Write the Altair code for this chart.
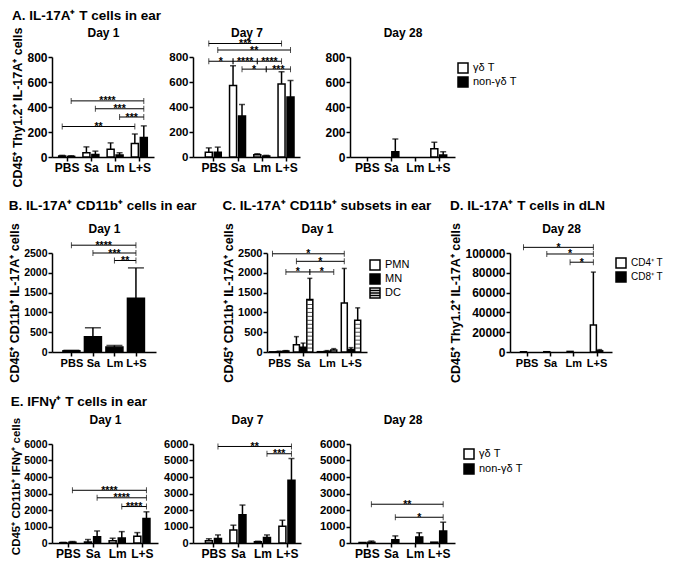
import json
import altair as alt
import pandas as pd

FONT = "Liberation Sans"

categories = ["PBS", "Sa", "Lm", "L+S"]
tcell_series = ["γδ T", "non-γδ T"]
cd11b_series = ["CD11b⁺"]
subset_series = ["PMN", "MN", "DC"]
dln_series = ["CD4⁺ T", "CD8⁺ T"]

# ---- A. IL-17A+ T cells in ear ----
a1_gd = [8, 34, 63, 108]
a1_gd_sd = [5, 47, 50, 76]
a1_non = [5, 21, 16, 157]
a1_non_sd = [5, 26, 18, 92]
a1_brackets = [(0, 1, 3, 1, 449, "****"), (1, 1, 3, 1, 386, "***"),
               (2, 1, 3, 1, 320, "***"), (0, 0, 3, 0, 244, "**")]

a7_gd = [39, 572, 18, 585]
a7_gd_sd = [34, 158, 8, 97]
a7_non = [39, 328, 8, 480]
a7_non_sd = [40, 92, 5, 132]
a7_brackets = [(0, 0, 3, 0, 908, "***"), (0, 1, 3, 1, 856, "**"),
               (0, 0, 1, 0, 766, "*"), (1, 0, 2, 0, 766, "****"),
               (2, 0, 3, 0, 766, "****"), (1, 1, 2, 1, 703, "*"),
               (2, 1, 3, 1, 703, "***")]

a28_gd = [0, 0, 0, 66]
a28_gd_sd = [0, 0, 0, 52]
a28_non = [0, 42, 0, 16]
a28_non_sd = [0, 102, 0, 26]
a28_brackets = []

# ---- B. IL-17A+ CD11b+ cells in ear ----
b_vals = [30, 388, 124, 1355]
b_sd = [12, 224, 41, 769]
b_brackets = [(0, 0, 3, 0, 2697, "****"), (1, 0, 3, 0, 2500, "***"),
              (2, 0, 3, 0, 2311, "**")]

# ---- C. IL-17A+ CD11b+ subsets in ear ----
c_pmn = [5, 183, 8, 1240]
c_pmn_sd = [0, 205, 0, 870]
c_mn = [8, 117, 15, 60]
c_mn_sd = [12, 108, 20, 50]
c_dc = [25, 1325, 50, 800]
c_dc_sd = [10, 535, 35, 315]
c_brackets = [(0, 0, 3, 0, 2480, "*"), (1, 0, 3, 0, 2290, "*"),
              (0, 2, 1, 2, 2022, "*"), (1, 2, 2, 2, 2022, "*")]

# ---- D. IL-17A+ T cells in dLN ----
d_cd4 = [150, 300, 600, 27300]
d_cd4_sd = [0, 0, 0, 53400]
d_cd8 = [0, 0, 0, 1200]
d_cd8_sd = [0, 0, 0, 1200]
d_brackets = [(0, 0, 3, 0, 105700, "*"), (1, 0, 3, 0, 99000, "*"),
              (2, 0, 3, 0, 90700, "*")]

# ---- E. IFNg+ T cells in ear ----
e1_gd = [20, 60, 140, 415]
e1_gd_sd = [15, 150, 150, 215]
e1_non = [50, 375, 300, 1480]
e1_non_sd = [40, 355, 390, 410]
e1_brackets = [(0, 1, 3, 1, 3195, "****"), (1, 1, 3, 1, 2740, "****"),
               (2, 1, 3, 1, 2210, "****")]

e7_gd = [140, 790, 80, 1020]
e7_gd_sd = [116, 290, 30, 360]
e7_non = [275, 1710, 335, 3800]
e7_non_sd = [215, 590, 155, 1320]
e7_brackets = [(0, 1, 3, 1, 5850, "**"), (2, 1, 3, 1, 5410, "***")]

e28_gd = [30, 0, 0, 50]
e28_gd_sd = [0, 0, 0, 0]
e28_non = [50, 200, 370, 730]
e28_non_sd = [70, 230, 250, 530]
e28_brackets = [(0, 1, 3, 1, 2350, "**"), (1, 1, 3, 1, 1560, "*")]

stripe_path = "M-1,-1H1V1H-1Z M-1,-0.5H1 M-1,0H1 M-1,0.5H1"
label_expr = json.dumps(categories) + "[datum.value]"


def offsets(n, step):
    return [(i - (n - 1) / 2) * step for i in range(n)]


def bar_frame(series, values, sds, step):
    offs = offsets(len(series), step)
    rows = []
    for si, name in enumerate(series):
        for gi, cat in enumerate(categories):
            v = values[si][gi]
            sd = sds[si][gi]
            rows.append({"category": cat, "series": name, "xpos": gi + offs[si],
                         "value": v, "sd": sd, "top": v + sd})
    return pd.DataFrame(rows)


def bracket_frame(brackets, n, step):
    offs = offsets(n, step)
    return pd.DataFrame([{"x1": g1 + offs[s1], "x2": g2 + offs[s2], "y": y, "label": l}
                         for g1, s1, g2, s2, y, l in brackets])


def panel(day, series, values, sds, brackets, fills, xdom, ydom, yticks, width, height,
          step, bar_w, ytitle=None, title=None, title_offset=0, legend=None,
          shapes=None, stripes=False, xlab=12, ylab=11.5, ytitle_size=12.5, ytitle_y=None):
    df = bar_frame(series, values, sds, step)
    base = alt.Chart(df)
    xs = alt.Scale(domain=xdom, nice=False, zero=False)
    ys = alt.Scale(domain=ydom, nice=False, zero=True)
    fill_scale = alt.Scale(domain=series, range=fills)

    ykw = dict(values=yticks, format="d", labelFontSize=ylab, titleFontSize=ytitle_size,
               titlePadding=2, labelPadding=1, title=ytitle if ytitle else None)
    if ytitle_y is not None:
        ykw["titleY"] = ytitle_y
    yax = alt.Axis(**ykw)
    xax = alt.Axis(orient="bottom", values=[0, 1, 2, 3], labelExpr=label_expr, title=None,
                   labelFontSize=xlab, labelOverlap=False, labelFlush=False)
    xnone = dict(axis=None)

    lg = None
    if legend:
        lg = alt.Legend(title=None, orient="right", offset=legend["offset"],
                        padding=legend["padding"], labelFont=FONT,
                        labelFontSize=legend.get("size", 11), labelFontWeight="normal",
                        labelColor="black", symbolSize=100, symbolStrokeWidth=1.5,
                        symbolStrokeColor="black", rowPadding=legend["row"],
                        labelOffset=4, symbolType="square")

    bars = base.transform_filter("datum.value > 0").mark_bar(
        orient="vertical", size=bar_w, stroke="black", strokeWidth=1.5
    ).encode(
        x=alt.X("xpos:Q", scale=xs, axis=xax),
        y=alt.Y("value:Q", scale=ys, stack=None, axis=yax),
        fill=alt.Fill("series:N", scale=fill_scale, legend=lg),
    )

    err = base.transform_filter("datum.sd > 0")
    rules = err.mark_rule(color="black", strokeWidth=1.5).encode(
        x=alt.X("xpos:Q", **xnone), y=alt.Y("value:Q", axis=yax), y2="top:Q")
    caps = err.mark_tick(orient="horizontal", size=bar_w - 1, thickness=1.5,
                         color="black").encode(
        x=alt.X("xpos:Q", **xnone), y=alt.Y("top:Q", axis=yax))

    daylayer = base.mark_point(opacity=0).encode(
        x=alt.X("xpos:Q", axis=alt.Axis(orient="top", title=day, labels=False, ticks=False,
                                        domain=False, titlePadding=21, titleFontSize=12,
                                        titleBaseline="alphabetic")),
        y=alt.Y("value:Q", axis=yax))

    layers = [bars, rules, caps]
    if stripes:
        st = base.transform_filter(
            "datum.series == '%s' && datum.value > 100" % series[-1]
        ).transform_calculate(
            stripe="sequence(100, datum.value, 100)"
        ).transform_flatten(["stripe"]).mark_tick(
            orient="horizontal", size=bar_w - 1, thickness=1, color="black"
        ).encode(x=alt.X("xpos:Q", **xnone), y=alt.Y("stripe:Q", axis=yax))
        layers.append(st)

    if brackets:
        bb = alt.Chart(bracket_frame(brackets, len(series), step))
        lines = bb.mark_rule(color="black", strokeWidth=1).encode(
            x=alt.X("x1:Q", **xnone), x2="x2:Q", y=alt.Y("y:Q", axis=yax))
        ends = bb.transform_fold(["x1", "x2"], as_=["end", "xe"]).mark_tick(
            orient="vertical", size=6, thickness=1, color="black").encode(
            x=alt.X("xe:Q", **xnone), y=alt.Y("y:Q", axis=yax))
        stars = bb.transform_calculate(xm="(datum.x1 + datum.x2) / 2").mark_text(
            baseline="alphabetic", dy=3.5, fontSize=10.5, fontWeight="bold",
            font=FONT, color="black").encode(
            x=alt.X("xm:Q", **xnone), y=alt.Y("y:Q", axis=yax), text="label:N")
        layers += [lines, ends, stars]

    layers.append(daylayer)

    if shapes:
        leg = base.transform_filter("false").mark_point(
            filled=True, size=100, stroke="black", strokeWidth=1.5, opacity=1).encode(
            fill=alt.Fill("series:N", scale=fill_scale, legend=lg),
            shape=alt.Shape("series:N", scale=alt.Scale(domain=series, range=shapes),
                            legend=lg))
        layers.append(leg)

    ch = alt.layer(*layers).resolve_axis(x="independent").properties(
        width=width, height=height)
    if title:
        ch = ch.properties(title=alt.TitleParams(
            text=title, anchor="start", frame="bounds", fontSize=13.5, font=FONT,
            fontWeight="bold", color="black", offset=title_offset))
    return ch


def spacer(w, h=1):
    return alt.Chart(pd.DataFrame({"z": [0]})).mark_point(opacity=0).properties(
        width=w, height=h)


def row(*charts):
    return alt.hconcat(*charts, spacing=0, bounds="flush").resolve_scale(
        x="independent", y="independent", fill="independent", shape="independent")


wb = ["white", "black"]
A_y = [0, 200, 400, 600, 800]
BC_y = [0, 500, 1000, 1500, 2000, 2500]
D_y = [0, 20000, 40000, 60000, 80000, 100000]
E_y = [0, 1000, 2000, 3000, 4000, 5000, 6000]

A1 = panel("Day 1", tcell_series, [a1_gd, a1_non], [a1_gd_sd, a1_non_sd], a1_brackets, wb,
           [-0.4, 3.4], [0, 800], A_y, 102, 100, 0.37, 7,
           ytitle="CD45⁺ Thy1.2⁺ IL-17A⁺ cells", title="A. IL-17A⁺ T cells in ear",
           title_offset=4, ylab=12)
A2 = panel("Day 7", tcell_series, [a7_gd, a7_non], [a7_gd_sd, a7_non_sd], a7_brackets, wb,
           [-0.63, 3.37], [0, 800], A_y, 107, 100, 0.37, 7, ylab=11.5)
A3 = panel("Day 28", tcell_series, [a28_gd, a28_non], [a28_gd_sd, a28_non_sd], a28_brackets,
           wb, [-0.5, 3.47], [0, 800], A_y, 105, 100, 0.37, 7, ylab=12,
           legend={"offset": -3, "padding": 5, "row": -2})

B = panel("Day 1", cd11b_series, [b_vals], [b_sd], b_brackets, ["black"],
          [-0.67, 3.7], [0, 2500], BC_y, 104, 99, 0.0, 17,
          ytitle="CD45⁺ CD11b⁺ IL-17A⁺ cells", title="B. IL-17A⁺ CD11b⁺ cells in ear",
          title_offset=10, xlab=11, ylab=10.5)
C = panel("Day 1", subset_series, [c_pmn, c_mn, c_dc], [c_pmn_sd, c_mn_sd, c_dc_sd],
          c_brackets, ["white", "black", "white"], [-0.3, 3.46], [0, 2500], BC_y, 100, 99,
          0.28, 6, ytitle="CD45⁺ CD11b⁺ IL-17A⁺ cells",
          title="C. IL-17A⁺ CD11b⁺ subsets in ear", title_offset=10, xlab=11, ylab=11,
          legend={"offset": -4, "padding": 6, "row": -2, "size": 11},
          shapes=["square", "square", stripe_path], stripes=True)
D = panel("Day 28", dln_series, [d_cd4, d_cd8], [d_cd4_sd, d_cd8_sd], d_brackets, wb,
          [-0.5, 3.45], [0, 100000], D_y, 102, 99, 0.27, 6,
          ytitle="CD45⁺ Thy1.2⁺ IL-17A⁺ cells", title="D. IL-17A⁺ T cells in dLN",
          title_offset=10, xlab=11, ylab=12,
          legend={"offset": -1, "padding": 4, "row": -3, "size": 10})

E1 = panel("Day 1", tcell_series, [e1_gd, e1_non], [e1_gd_sd, e1_non_sd], e1_brackets, wb,
           [-0.44, 3.45], [0, 6000], E_y, 106, 99, 0.37, 7,
           ytitle="CD45⁺ CD11b⁺ IFNγ⁺ cells", title="E. IFNγ⁺ T cells in ear",
           title_offset=5, ylab=10.5, ytitle_size=11.5, ytitle_y=42)
E2 = panel("Day 7", tcell_series, [e7_gd, e7_non], [e7_gd_sd, e7_non_sd], e7_brackets, wb,
           [-0.63, 3.37], [0, 6000], E_y, 108, 99, 0.37, 7, ylab=11)
E3 = panel("Day 28", tcell_series, [e28_gd, e28_non], [e28_gd_sd, e28_non_sd], e28_brackets,
           wb, [-0.5, 3.47], [0, 6000], E_y, 105, 99, 0.37, 7, ylab=11.5,
           legend={"offset": 4, "padding": 4, "row": -1})

rowA = row(A1, spacer(39), A2, spacer(50), A3)
rowB = row(B, spacer(111), C, spacer(143), D)
rowE = row(E1, spacer(35), E2, spacer(49), E3)

chart = alt.vconcat(rowA, rowB, rowE, spacing=11).resolve_scale(
    x="independent", y="independent", fill="independent", shape="independent"
).properties(
    padding={"left": 0, "top": 0, "right": 0, "bottom": 0}
).configure_view(
    strokeWidth=0
).configure_axis(
    domainColor="black", domainWidth=1.5, tickColor="black", tickWidth=1.5, tickSize=4,
    labelFont=FONT, labelFontWeight="bold", labelColor="black", labelPadding=1.5,
    titleFont=FONT, titleFontWeight="bold", titleColor="black", grid=False
).configure_text(font=FONT)

chart.save("out.html", embed_options={"renderer": "svg", "actions": False})
